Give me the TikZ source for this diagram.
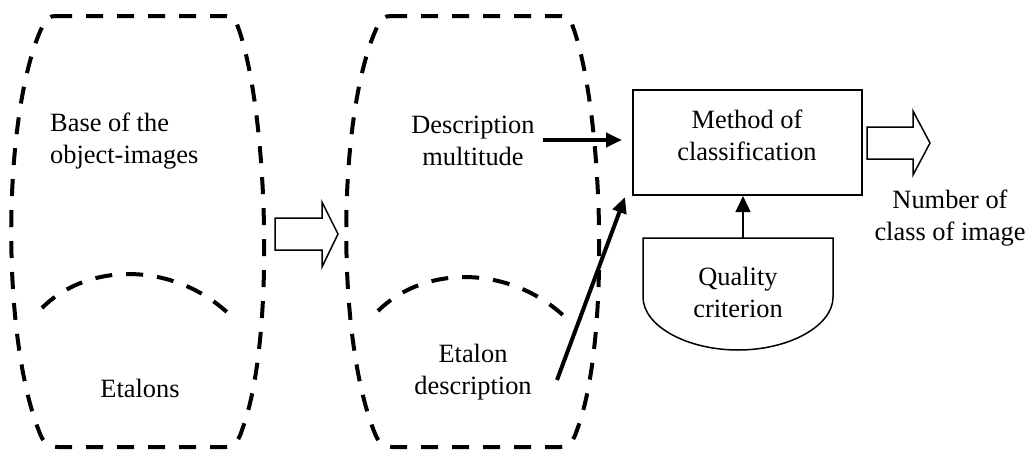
\documentclass[tikz,border=0pt]{standalone}
\usepackage{fontspec}
\setmainfont{Liberation Serif}
\usetikzlibrary{arrows.meta}
\begin{document}
\begin{tikzpicture}[x=1pt,y=-1pt,
  blob/.style={line width=4pt, dash pattern=on 17pt off 14pt},
  lbl/.style={font=\fontsize{26.4}{32}\selectfont, align=center, inner sep=0pt},
  hollow/.style={draw, line width=1.5pt, line join=miter},
  thickarrow/.style={line width=4pt, -{Triangle[length=16pt,width=14pt]}},
  thinarrow/.style={line width=1.5pt, -{Triangle[length=16pt,width=15pt]}},
  boxstyle/.style={draw, line width=2pt, minimum width=229pt, minimum height=105pt, inner sep=0pt}]
\useasboundingbox (0,0) rectangle (1030,450);
% barrel shapes
\foreach \dx in {0,335}{
\begin{scope}[shift={(\dx,0)}]
\draw[blob] (55,16) -- (226,16) .. controls (232,16) and (236,20) .. (238,27)
  .. controls (268,110) and (276,340) .. (242,430)
  .. controls (239,440) and (234,447) .. (226,447)
  -- (58,447) .. controls (50,447) and (44,443) .. (41,436)
  .. controls (0,340) and (2,110) .. (43,25)
  .. controls (46,19) and (50,16) .. (55,16) -- cycle;
\end{scope}}
\draw[blob] (42,308) .. controls (90,260) and (180,262) .. (235,320);
\draw[blob] (378,311) .. controls (426,263) and (516,265) .. (571,323);
% texts
\node[lbl, align=left, anchor=west] (base) at (50,141) {Base of the\\object-images};
\node[lbl, anchor=base] (etalons) at (140,397) {Etalons};
\node[lbl] (descm) at (473,141) {Description\\multitude};
\node[lbl] (etd) at (473,372) {Etalon\\description};
% hollow arrow 1
\draw[hollow] (275,218) -- (322,218) -- (322,202) -- (338,234) -- (322,267) -- (322,250) -- (275,250) -- cycle;
% classification box
\node[boxstyle] (box) at (747.5,142.5) {};
\node[lbl] (boxtxt) at (747,135) {Method of\\classification};
% hollow arrow 2
\draw[hollow] (867,127) -- (913,127) -- (913,111) -- (930,143) -- (913,175) -- (913,159) -- (867,159) -- cycle;
\node[lbl] (num) at (950,218) {Number of\\class of image};
% quality criterion
\draw[line width=1.5pt] (643,238) -- (833,238) -- (833,297)
  .. controls (833,326) and (789,350) .. (738,350)
  .. controls (687,350) and (643,326) .. (643,297) -- cycle;
\node[lbl] (qc) at (738,292) {Quality\\criterion};
% connectors
\coordinate (dmtail) at (543,140);
\draw[thickarrow] (dmtail) -- ([xshift=-10pt]box.west |- dmtail);
\coordinate (edtail) at (557,380);
\coordinate (edtip) at (625,197);
\draw[thickarrow] (edtail) -- (edtip);
\coordinate (qtop) at (743,238);
\draw[thinarrow] (qtop) -- (qtop |- box.south);
\end{tikzpicture}
\end{document}
